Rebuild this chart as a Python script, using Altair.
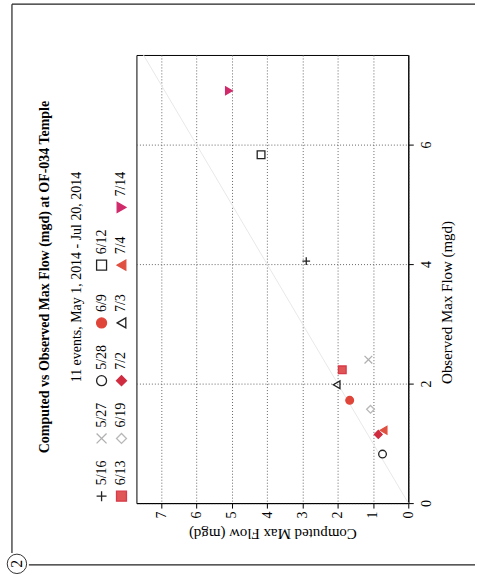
import altair as alt
import pandas as pd

# ---- data read from the (rotated) reference ----
events = ["5/16", "5/27", "5/28", "6/9", "6/12", "6/13", "6/19", "7/2", "7/3", "7/4", "7/14"]
observed = [4.05, 2.40, 0.82, 1.72, 5.83, 2.23, 1.57, 1.15, 1.98, 1.22, 6.90]
computed = [2.89, 1.13, 0.73, 1.66, 4.17, 1.87, 1.07, 0.85, 2.03, 0.70, 5.08]

shapes = ["M-1,0L1,0M0,-1L0,1", "M-1,-1L1,1M-1,1L1,-1", "circle", "circle", "square",
          "square", "diamond", "diamond", "triangle-left", "triangle-left", "triangle-right"]
strokes = ["#222222", "#b0b0b0", "#222222", "#e0453a", "#222222", "#d83a4a",
           "#b8b8b8", "#d02c40", "#222222", "#e05040", "#d02a6a"]
fills = ["transparent", "transparent", "transparent", "#e0453a", "transparent", "#e05555",
         "transparent", "#d02c40", "transparent", "#e05040", "#d02a6a"]

legend_col = [0, 0, 0, 0, 0, 1, 1, 1, 1, 1, 1]
legend_row = [0, 1, 2, 3, 4, 0, 1, 2, 3, 4, 5]

obs_ticks = [0, 2, 4, 6]
comp_ticks = [0, 1, 2, 3, 4, 5, 6, 7]
ref_line = [0, 7.5]

title_text = "Computed vs Observed Max Flow (mgd) at OF-034 Temple"
subtitle_text = "11 events, May 1, 2014 - Jul 20, 2014"

SERIF = "Liberation Serif"

df = pd.DataFrame({"event": events, "observed": observed, "computed": computed})
leg = pd.DataFrame({"event": events, "col": legend_col, "row": legend_row})
ref = pd.DataFrame({"computed": ref_line, "observed": ref_line})
dummy = pd.DataFrame({"a": [0]})

shape_enc = alt.Shape("event:N", scale=alt.Scale(domain=events, range=shapes), legend=None)
stroke_enc = alt.Stroke("event:N", scale=alt.Scale(domain=events, range=strokes), legend=None)
fill_enc = alt.Fill("event:N", scale=alt.Scale(domain=events, range=fills), legend=None)

x_enc = alt.X(
    "computed:Q",
    scale=alt.Scale(domain=[0, 7.7], reverse=True, nice=False, zero=False),
    axis=alt.Axis(
        values=comp_ticks, orient="bottom", labelAngle=270, labelAlign="right",
        labelBaseline="middle", labelFont=SERIF, labelFontSize=14, labelColor="black",
        title="Computed Max Flow (mgd)", titleAngle=180, titleFont=SERIF,
        titleFontSize=15, titleFontWeight="normal", titleColor="black",
        titleBaseline="bottom", titlePadding=8,
        grid=True, gridDash=[1, 2], gridColor="#666666", gridWidth=1,
        domainColor="black", tickColor="black", tickSize=5, labelPadding=3,
    ),
)
y_enc = alt.Y(
    "observed:Q",
    scale=alt.Scale(domain=[0, 7.5], nice=False, zero=False),
    axis=alt.Axis(
        values=obs_ticks, orient="right", labelAngle=270, labelAlign="center",
        labelBaseline="top", labelFont=SERIF, labelFontSize=14, labelColor="black",
        labelPadding=6,
        title="Observed Max Flow (mgd)", titleAngle=270, titleFont=SERIF,
        titleFontSize=15, titleFontWeight="normal", titleColor="black",
        titleBaseline="top", titleAlign="center", titleY=248, titlePadding=6,
        grid=True, gridDash=[1, 2], gridColor="#666666", gridWidth=1,
        domainColor="black", tickColor="black", tickSize=5,
    ),
)

line = alt.Chart(ref).mark_line(color="#e8e8e8", strokeWidth=1).encode(x=x_enc, y=y_enc)
pts = alt.Chart(df).mark_point(size=60, strokeWidth=1.3, opacity=1).encode(
    x=x_enc, y=y_enc, shape=shape_enc, stroke=stroke_enc, fill=fill_enc
)
scatter = alt.layer(line, pts).properties(width=273, height=450)

# ---- hand-built rotated legend ----
lx = alt.X("col:Q", scale=alt.Scale(domain=[-0.5, 1.5], nice=False, zero=False), axis=None)
ly = alt.Y("row:Q", scale=alt.Scale(domain=[-0.12, 7.64], nice=False, zero=False), axis=None)
leg_pts = alt.Chart(leg).mark_point(size=100, strokeWidth=1.3, opacity=1).encode(
    x=lx, y=ly, shape=shape_enc, stroke=stroke_enc, fill=fill_enc
)
leg_txt = alt.Chart(leg).mark_text(
    angle=270, align="left", baseline="middle", dx=11, font=SERIF, fontSize=14, color="black"
).encode(x=lx, y=ly, text="event:N")

# rotated title / subtitle
title_mark = alt.Chart(dummy).mark_text(
    angle=270, align="center", baseline="middle", font=SERIF, fontSize=14,
    fontWeight="bold", color="black"
).encode(x=alt.value(-47), y=alt.value(223), text=alt.value(title_text))
subtitle_mark = alt.Chart(dummy).mark_text(
    angle=270, align="center", baseline="middle", font=SERIF, fontSize=14, color="black"
).encode(x=alt.value(-15), y=alt.value(223), text=alt.value(subtitle_text))

# page frame decoration (scan border and page marker)
top_line = alt.Chart(dummy).mark_rule(color="#222", strokeWidth=1.2).encode(
    x=alt.value(-80), x2=alt.value(385), y=alt.value(-51))
left_line = alt.Chart(dummy).mark_rule(color="#222", strokeWidth=1.2).encode(
    x=alt.value(-80), y=alt.value(-51), y2=alt.value(500))
bottom_line = alt.Chart(dummy).mark_rule(color="#222", strokeWidth=1.2).encode(
    x=alt.value(-63), x2=alt.value(385), y=alt.value(512))
marker = alt.Chart(dummy).mark_point(shape="circle", size=380, filled=False, color="#333",
                                     strokeWidth=1, opacity=1).encode(
    x=alt.value(-75), y=alt.value(511))
marker_txt = alt.Chart(dummy).mark_text(angle=270, font=SERIF, fontSize=16, color="black",
                                        align="center", baseline="middle").encode(
    x=alt.value(-75), y=alt.value(511), text=alt.value("2"))

legend_panel = alt.layer(
    leg_pts, leg_txt, title_mark, subtitle_mark,
    top_line, left_line, bottom_line, marker, marker_txt
).properties(width=40, height=450, view=alt.ViewBackground(stroke="transparent"))

chart = alt.hconcat(legend_panel, scatter, spacing=5, bounds="flush").properties(
    padding={"left": 4, "top": 1, "right": 0, "bottom": 0},
    background="white",
).configure_view(stroke="black", strokeWidth=1)

chart.save("out.html", embed_options={"renderer": "svg", "actions": False})
